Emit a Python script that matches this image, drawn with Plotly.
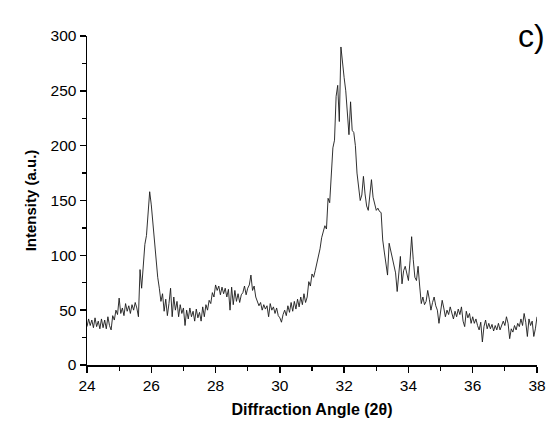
import numpy as np
import plotly.graph_objects as go

# Diffraction angle grid: 24.00 .. 38.00 in 0.05 steps
start_angle = 24.0
step = 0.05

# Intensity, one row per degree (20 points each), last point at 38.00
intensity = [
    35, 42, 36, 41, 34, 43, 35, 40, 33, 42, 34, 41, 33, 44, 36, 32, 45, 41, 50, 46,          # 24
    61, 47, 52, 45, 56, 49, 54, 47, 55, 50, 57, 52, 44, 87, 70, 95, 110, 118, 135, 158,      # 25
    146, 129, 112, 97, 80, 70, 58, 65, 49, 60, 45, 56, 70, 44, 62, 50, 58, 44, 55, 47,       # 26
    52, 36, 50, 42, 52, 44, 49, 40, 51, 43, 48, 40, 53, 44, 55, 50, 59, 56, 66, 62,          # 27
    73, 68, 72, 64, 71, 65, 70, 62, 69, 50, 71, 55, 68, 58, 65, 57, 64, 66, 72, 64,          # 28
    70, 73, 82, 68, 72, 62, 58, 54, 57, 50, 55, 51, 54, 44, 56, 50, 53, 47, 52, 45,          # 29
    43, 39, 46, 50, 45, 54, 48, 57, 49, 58, 51, 60, 53, 62, 55, 65, 57, 62, 76, 72,          # 30
    83, 80, 86, 92, 99, 106, 116, 121, 127, 124, 152, 148, 172, 198, 205, 245, 255, 222, 290, 272,  # 31
    262, 250, 230, 210, 240, 214, 212, 200, 175, 163, 150, 155, 172, 156, 145, 141, 158, 169, 153, 148,  # 32
    141, 143, 140, 139, 114, 103, 90, 82, 111, 104, 96, 92, 84, 67, 80, 99, 74, 86, 90, 83,  # 33
    77, 95, 117, 96, 80, 77, 90, 72, 56, 62, 55, 58, 68, 60, 50, 57, 62, 54, 50, 38,         # 34
    47, 59, 52, 44, 50, 46, 53, 47, 42, 49, 44, 51, 46, 53, 40, 35, 49, 43, 47, 38,          # 35
    44, 38, 42, 36, 32, 39, 21, 35, 41, 33, 38, 33, 37, 31, 36, 32, 38, 32, 36, 40,          # 36
    36, 44, 38, 24, 33, 30, 36, 32, 38, 35, 42, 36, 47, 39, 26, 42, 36, 40, 26, 33,          # 37
    44,                                                                                      # 38
]

two_theta = np.round(start_angle + step * np.arange(len(intensity)), 2)

x_ticks = [24, 26, 28, 30, 32, 34, 36, 38]
y_ticks = [0, 50, 100, 150, 200, 250, 300]

FONT = "Liberation Sans, Arial, sans-serif"

fig = go.Figure()
fig.add_trace(go.Scatter(
    x=two_theta, y=intensity, mode="lines",
    line=dict(color="#1a1a1a", width=0.9),
    showlegend=False, hoverinfo="skip",
))

axis_common = dict(
    showgrid=False, zeroline=False, showline=True, linecolor="black", linewidth=1.5,
    ticks="outside", ticklen=6, tickwidth=1.5, tickcolor="black",
    tickfont=dict(family=FONT, size=15.5, color="black"),
    mirror=False, automargin=False,
)

fig.update_xaxes(
    range=[24, 38], tickvals=x_ticks, ticktext=[str(v) for v in x_ticks],
    minor=dict(dtick=1, ticklen=4, tickwidth=1.2, tickcolor="black", ticks="outside"),
    title=dict(text="<b>Diffraction Angle (2θ)</b>", font=dict(family=FONT, size=16, color="black"), standoff=10),
    **axis_common,
)
fig.update_yaxes(
    range=[0, 300], tickvals=y_ticks, ticktext=[str(v) for v in y_ticks],
    minor=dict(dtick=25, ticklen=4, tickwidth=1.2, tickcolor="black", ticks="outside"),
    title=dict(text="<b>Intensity (a.u.)</b>", font=dict(family=FONT, size=15, color="black"), standoff=10),
    **axis_common,
)

fig.add_annotation(
    text="c)", xref="paper", yref="paper", x=1.022, y=1.0,
    xanchor="right", yanchor="middle", showarrow=False,
    font=dict(family=FONT, size=32, color="black"),
)

fig.update_layout(
    width=549, height=426,
    margin=dict(l=87, r=12, t=36, b=61),
    paper_bgcolor="white", plot_bgcolor="white",
)

# remove the default page margin so the figure fills the window exactly
fig.write_html(
    "out.html",
    config={"displayModeBar": False, "staticPlot": True},
    post_script="document.body.style.margin='0';document.body.style.overflow='hidden';",
)
